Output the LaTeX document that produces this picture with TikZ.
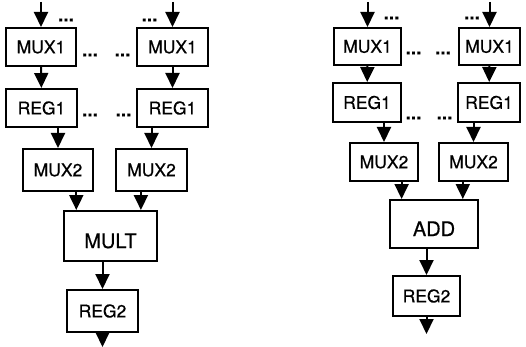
\documentclass[tikz,border=0pt]{standalone}
\usepackage{fontspec}
\setmainfont{TeX Gyre Heros}[FakeBold=0.5]
\usetikzlibrary{arrows.meta,calc}
\newcommand{\blockfont}{\fontsize{17.5}{20}\selectfont}
\newcommand{\opfont}{\fontsize{20}{24}\selectfont}
\newcommand{\dotfont}{\fontsize{19}{22}\selectfont\bfseries}
\tikzset{
  blk/.style={draw, line width=2pt, inner sep=0pt, font=\blockfont},
  opblk/.style={blk, font=\opfont, text height=24pt, text depth=0pt},
  arr/.style={line width=2pt, -{Triangle[length=15pt,width=14pt]}},
  dots/.style={inner sep=0pt, font=\dotfont},
}

\begin{document}
\begin{tikzpicture}[x=1pt, y=-1pt]
\useasboundingbox (0,0) rectangle (526,347);

\node[blk, minimum width=70, minimum height=38] (mux1a) at (41,47) {MUX1};
\node[blk, minimum width=71, minimum height=38] (mux1b) at (172.5,47) {MUX1};
\node[blk, minimum width=71, minimum height=38] (reg1a) at (41.5,108) {REG1};
\node[blk, minimum width=71, minimum height=38] (reg1b) at (172.5,108) {REG1};
\node[blk, minimum width=70, minimum height=42] (mux2a) at (58,170) {MUX2};
\node[blk, minimum width=71, minimum height=42] (mux2b) at (151.5,170) {MUX2};
\node[opblk, minimum width=93, minimum height=50] (mult) at (110.5,236) {MULT};
\node[blk, minimum width=71, minimum height=42] (reg2a) at (102.5,311) {REG2};

\node[dots] (dta) at (66,20) {...};
\node[dots] (dtb) at (149.5,20) {...};
\node[dots] (dtc) at (90,55) {...};
\node[dots] (dtd) at (122.5,55) {...};
\node[dots] (dte) at (90,115) {...};
\node[dots] (dtf) at (123.5,115) {...};

\coordinate (ina) at ($(mux1a.north)+(0,-25)$);
\coordinate (inb) at ($(mux1b.north)+(0,-25)$);
\coordinate (ma) at ($(mult.north west)!.14!(mult.north east)$);
\coordinate (mb) at ($(mult.north west)!.82!(mult.north east)$);
\coordinate (outa) at ($(reg2a.south)+(0,14)$);

\draw[arr] (ina) -- (mux1a);
\draw[arr] (inb) -- (mux1b);
\draw[arr] (mux1a) -- (reg1a);
\draw[arr] (mux1b) -- (reg1b);
\draw[arr] (reg1a.south -| mux2a) -- (mux2a);
\draw[arr] (reg1b.south -| mux2b) -- (mux2b);
\draw[arr] (mux2a.south -| ma) -- (ma);
\draw[arr] (mux2b.south -| mb) -- (mb);
\draw[arr] (mult.south -| reg2a) -- (reg2a);
\draw[arr] (reg2a) -- (outa);

\node[blk, minimum width=67, minimum height=37] (mux1c) at (367.5,46.5) {MUX1};
\node[blk, minimum width=61, minimum height=37] (mux1d) at (489.5,46.5) {MUX1};
\node[blk, minimum width=68, minimum height=39] (reg1c) at (367,102.5) {REG1};
\node[blk, minimum width=62, minimum height=39] (reg1d) at (489,102.5) {REG1};
\node[blk, minimum width=68, minimum height=38] (mux2c) at (384,162) {MUX2};
\node[blk, minimum width=69, minimum height=38] (mux2d) at (473.5,162) {MUX2};
\node[opblk, minimum width=88, minimum height=48] (add) at (434,224) {ADD};
\node[blk, minimum width=67, minimum height=40] (reg2b) at (426.5,296) {REG2};

\node[dots] (dtg) at (391.5,18) {...};
\node[dots] (dth) at (472,18) {...};
\node[dots] (dti) at (413.5,53) {...};
\node[dots] (dtj) at (443,53) {...};
\node[dots] (dtk) at (413.5,118) {...};
\node[dots] (dtl) at (444.5,118) {...};

\coordinate (inc) at ($(mux1c.north)+(0,-25)$);
\coordinate (ind) at ($(mux1d.north)+(0,-25)$);
\coordinate (aa) at ($(add.north west)!.14!(add.north east)$);
\coordinate (ab) at ($(add.north west)!.82!(add.north east)$);
\coordinate (outb) at ($(reg2b.south)+(0,17)$);

\draw[arr] (inc) -- (mux1c);
\draw[arr] (ind) -- (mux1d);
\draw[arr] (mux1c) -- (reg1c);
\draw[arr] (mux1d) -- (reg1d);
\draw[arr] (reg1c.south -| mux2c) -- (mux2c);
\draw[arr] (reg1d.south -| mux2d) -- (mux2d);
\draw[arr] (mux2c.south -| aa) -- (aa);
\draw[arr] (mux2d.south -| ab) -- (ab);
\draw[arr] (add.south -| reg2b) -- (reg2b);
\draw[arr] (reg2b) -- (outb);
\end{tikzpicture}
\end{document}
